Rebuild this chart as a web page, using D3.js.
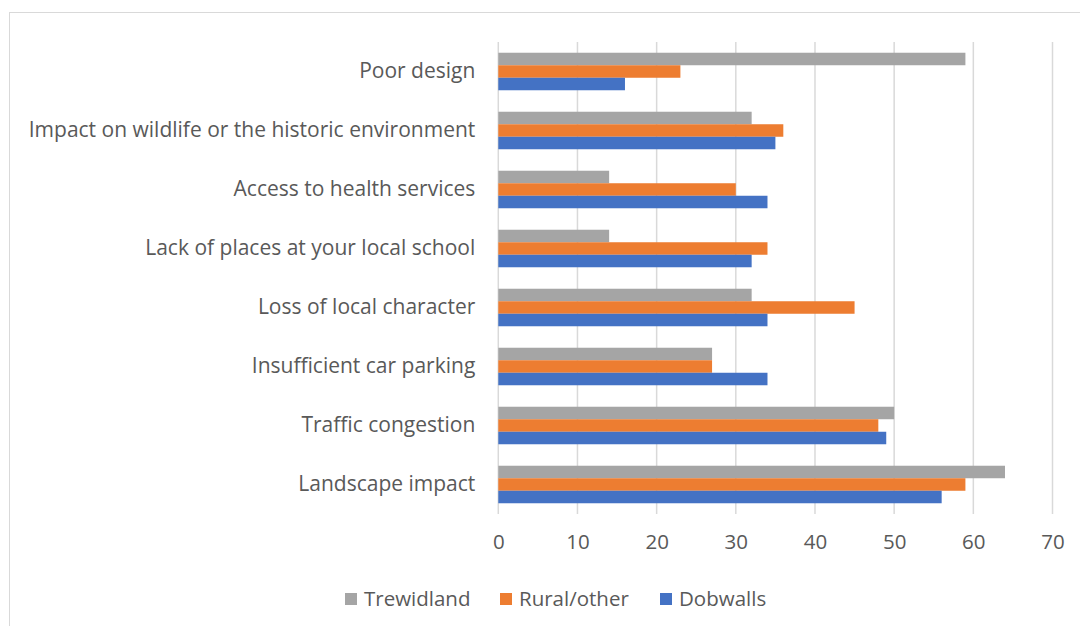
<!DOCTYPE html>
<html><head><meta charset="utf-8">
<script src="https://cdn.jsdelivr.net/npm/d3@7"></script>
<style>body{margin:0;background:#fff}svg{display:block}</style>
</head><body>
<script>
const categories = ["Poor design","Impact on wildlife or the historic environment","Access to health services","Lack of places at your local school","Loss of local character","Insufficient car parking","Traffic congestion","Landscape impact"];
const seriesNames = ["Trewidland","Rural/other","Dobwalls"];
const trewidland = [59,32,14,14,32,27,50,64];
const ruralOther = [23,36,30,34,45,27,48,59];
const dobwalls = [16,35,34,32,34,34,49,56];
const tickValues = [0,10,20,30,40,50,60,70];
const colors = ["#A5A5A5","#ED7D31","#4472C4"];

const W=1080,H=626;
const svg=d3.select("body").append("svg").attr("width",W).attr("height",H);
svg.append("rect").attr("x",9.5).attr("y",12.5).attr("width",1100).attr("height",700)
  .attr("fill","#fff").attr("stroke","#d9d9d9").attr("stroke-width",1);

const font="'Open Sans', 'Noto Sans', sans-serif";
const textColor="#595959";
const x=d3.scaleLinear().domain([0,70]).range([498.3,1052.5]);
const y=d3.scaleBand().domain(categories).range([42,514]).paddingInner(0.364).paddingOuter(0.182);
const ys=d3.scaleBand().domain(seriesNames).range([0,y.bandwidth()]);

// gridlines
svg.append("g").selectAll("line").data(tickValues).join("line")
  .attr("x1",d=>x(d)).attr("x2",d=>x(d)).attr("y1",42).attr("y2",514)
  .attr("stroke","#d9d9d9").attr("stroke-width",1.5);

const data=[trewidland,ruralOther,dobwalls];
const g=svg.append("g");
seriesNames.forEach((s,si)=>{
  g.selectAll(".b"+si).data(categories).join("rect")
    .attr("x",x(0)).attr("y",c=>y(c)+ys(s))
    .attr("width",(c,i)=>x(data[si][i])-x(0)).attr("height",ys.bandwidth())
    .attr("fill",colors[si]);
});

// category labels
const yAxis=svg.append("g").attr("transform",`translate(${x(0)},0)`)
  .call(d3.axisLeft(y).tickSize(0).tickPadding(23));
yAxis.select(".domain").remove();
yAxis.selectAll("text").attr("font-family",font).attr("font-size",21).attr("fill",textColor);

// x tick labels
const xAxis=svg.append("g").attr("transform","translate(0,514)")
  .call(d3.axisBottom(x).tickValues(tickValues).tickSize(0).tickPadding(20));
xAxis.select(".domain").remove();
xAxis.selectAll("text").attr("font-family",font).attr("font-size",20.5).attr("fill",textColor);

// legend
const legendX=[345,500,660];
const lg=svg.append("g");
seriesNames.forEach((s,i)=>{
  lg.append("rect").attr("x",legendX[i]).attr("y",593).attr("width",12).attr("height",12).attr("fill",colors[i]);
  lg.append("text").attr("x",legendX[i]+19).attr("y",599).attr("dy","0.35em")
    .attr("font-family",font).attr("font-size",20.5).attr("fill",textColor).text(s);
});
</script>
</body></html>
